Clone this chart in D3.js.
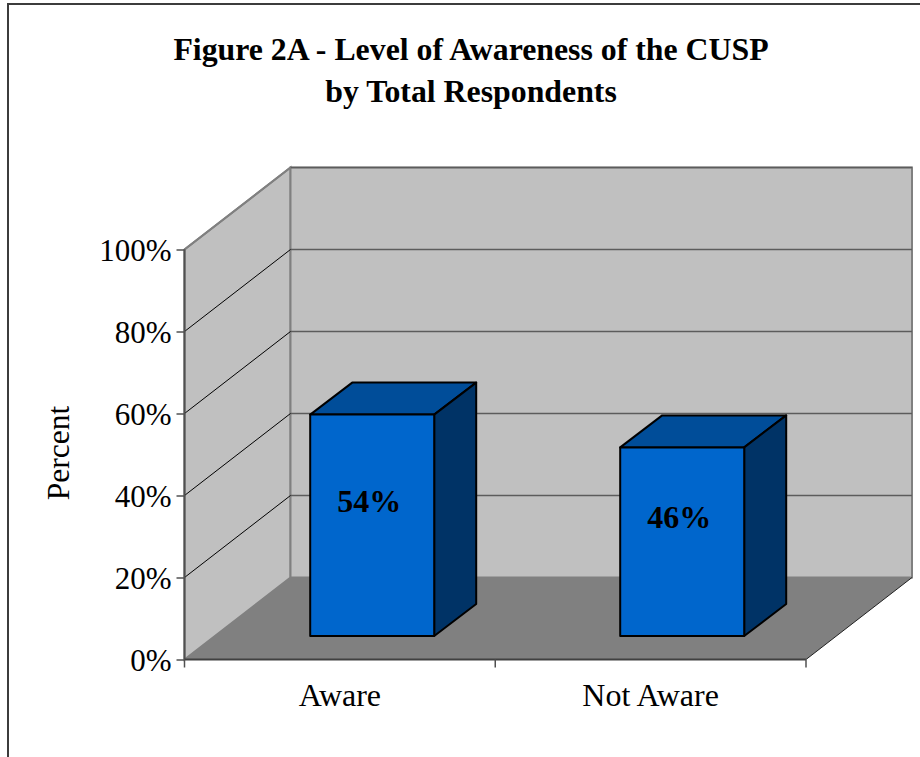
<!DOCTYPE html>
<html>
<head>
<meta charset="utf-8">
<script src="https://cdnjs.cloudflare.com/ajax/libs/d3/7.8.5/d3.min.js"></script>
<style>
    html, body { margin: 0; background: #fff; }
    svg { display: block; }
    text { font-family: "Liberation Serif", serif; fill: #000; }
</style>
</head>
<body>
<svg width="920" height="757"></svg>
<script>
var categories = ["Aware", "Not Aware"];
var percents = [54, 46];
var yTicks = [0, 20, 40, 60, 80, 100];
var titleLines = ["Figure 2A - Level of Awareness of the CUSP", "by Total Respondents"];

var svg = d3.select("svg"),
    plotLeft = 184.5, plotRight = 806,
    plotBottom = 659.5, plotTop = 249.5,
    depthX = 106, depthY = -82;   // how far the back wall sits from the front edge

var x = d3.scaleBand().domain(categories).range([plotLeft, plotRight - 1.5]).paddingInner(0.6).paddingOuter(0.3);
var xFull = d3.scaleBand().domain(categories).range([plotLeft, plotRight]);
var y = d3.scaleLinear().domain([0, 100]).range([plotBottom, plotTop]);

function poly(pts) { return pts.map(function(p) { return p.join(","); }).join(" "); }

// outer frame, only top and left show in the picture
svg.append("path").attr("d", "M8,757V4H920").attr("fill", "none").attr("stroke", "#3c3c3c").attr("stroke-width", 2);

// side wall
svg.append("polygon")
    .attr("points", poly([[plotLeft, plotBottom], [plotLeft, plotTop], [plotLeft + depthX, plotTop + depthY], [plotLeft + depthX, plotBottom + depthY]]))
    .attr("fill", "#c0c0c0").attr("stroke", "#808080").attr("stroke-width", 2);
// back wall
svg.append("polygon")
    .attr("points", poly([[plotLeft + depthX, plotBottom + depthY], [plotLeft + depthX, plotTop + depthY], [plotRight + depthX, plotTop + depthY], [plotRight + depthX, plotBottom + depthY]]))
    .attr("fill", "#c0c0c0").attr("stroke", "#808080").attr("stroke-width", 2);
// floor
svg.append("polygon")
    .attr("points", poly([[plotLeft, plotBottom], [plotLeft + depthX, plotBottom + depthY], [plotRight + depthX, plotBottom + depthY], [plotRight, plotBottom]]))
    .attr("fill", "#808080");
svg.append("line")
    .attr("x1", plotRight).attr("y1", plotBottom).attr("x2", plotRight + depthX).attr("y2", plotBottom + depthY)
    .attr("stroke", "#222").attr("stroke-width", 1);

// gridlines, the 100% one is the wall edge itself
var grid = yTicks.filter(function(d) { return d > 0; });
svg.selectAll(".grid-back").data(grid).enter().append("line")
    .attr("class", "grid-back")
    .attr("x1", plotLeft + depthX).attr("x2", plotRight + depthX)
    .attr("y1", function(d) { return y(d) + depthY; }).attr("y2", function(d) { return y(d) + depthY; })
    .attr("stroke", "#5c5c5c").attr("stroke-width", 1.5);
svg.selectAll(".grid-side").data(grid).enter().append("line")
    .attr("class", "grid-side")
    .attr("x1", plotLeft).attr("x2", plotLeft + depthX)
    .attr("y1", function(d) { return y(d); }).attr("y2", function(d) { return y(d) + depthY; })
    .attr("stroke", function(d) { return d === 100 ? "#808080" : "#000"; })
    .attr("stroke-width", function(d) { return d === 100 ? 2 : 1; });

// axes
var yAxis = svg.append("g").attr("transform", "translate(" + plotLeft + ",0)")
    .call(d3.axisLeft(y).tickValues(yTicks).tickSize(8).tickPadding(5).tickFormat(function(d) { return d + "%"; }));
yAxis.attr("font-family", null);
yAxis.selectAll("text").style("font-size", "31px").attr("dy", "0.35em");
yAxis.selectAll("path").attr("d", "M0," + plotBottom + "V" + plotTop).attr("stroke", "#505050").attr("stroke-width", 2);
yAxis.selectAll("line").attr("stroke", "#505050").attr("stroke-width", 1.5);

var xAxis = svg.append("g").attr("transform", "translate(0," + plotBottom + ")")
    .call(d3.axisBottom(xFull).tickSize(0).tickPadding(24));
xAxis.attr("font-family", null);
xAxis.selectAll("text").style("font-size", "32px").attr("dy", "0.71em");
xAxis.select("path").attr("d", "M" + plotLeft + ",0H" + plotRight).attr("stroke", "#404040").attr("stroke-width", 2);
// ticks between the categories, not at their centres
svg.selectAll(".x-tick").data(d3.range(categories.length + 1)).enter().append("line")
    .attr("class", "x-tick")
    .attr("x1", function(i) { return plotLeft + i * xFull.step(); }).attr("x2", function(i) { return plotLeft + i * xFull.step(); })
    .attr("y1", plotBottom).attr("y2", plotBottom + 8)
    .attr("stroke", "#505050").attr("stroke-width", 1.5);

// bars
var barShiftX = 32.7, barShiftY = -23.5, barDepthX = 42, barDepthY = -32;
var bars = svg.selectAll(".bar").data(percents).enter().append("g").attr("class", "bar")
    .attr("stroke", "#000").attr("stroke-width", 2).attr("stroke-linejoin", "round");

function bx(i) { return x(categories[i]) + barShiftX; }
function by(v) { return y(v) + barShiftY; }

bars.append("polygon").attr("fill", "#004d99").attr("points", function(d, i) {
    var a = bx(i), b = a + x.bandwidth(), t = by(d);
    return poly([[a, t], [a + barDepthX, t + barDepthY], [b + barDepthX, t + barDepthY], [b, t]]);
});
bars.append("polygon").attr("fill", "#003366").attr("points", function(d, i) {
    var b = bx(i) + x.bandwidth(), t = by(d), f = by(0);
    return poly([[b, t], [b + barDepthX, t + barDepthY], [b + barDepthX, f + barDepthY], [b, f]]);
});
bars.append("rect").attr("fill", "#0066cc")
    .attr("x", function(d, i) { return bx(i); })
    .attr("y", function(d) { return by(d); })
    .attr("width", x.bandwidth())
    .attr("height", function(d) { return by(0) - by(d); });

// value labels
svg.selectAll(".value").data(percents).enter().append("text")
    .attr("class", "value")
    .attr("x", function(d, i) { return bx(i) + x.bandwidth() / 2 - 3; })
    .attr("y", function(d) { return (by(d) + by(0)) / 2 - 25; })
    .attr("dy", "0.35em")
    .attr("text-anchor", "middle")
    .style("font-size", "32px").style("font-weight", "bold")
    .text(function(d) { return d + "%"; });

// y title
svg.append("text")
    .attr("transform", "translate(69,453) rotate(-90)")
    .attr("text-anchor", "middle")
    .style("font-size", "31.5px")
    .text("Percent");

// chart title
svg.selectAll(".title").data(titleLines).enter().append("text")
    .attr("class", "title")
    .attr("x", 471)
    .attr("y", function(d, i) { return 60 + i * 41.5; })
    .attr("text-anchor", "middle")
    .style("font-size", "31.8px").style("font-weight", "bold")
    .text(function(d) { return d; });
</script>
</body>
</html>
